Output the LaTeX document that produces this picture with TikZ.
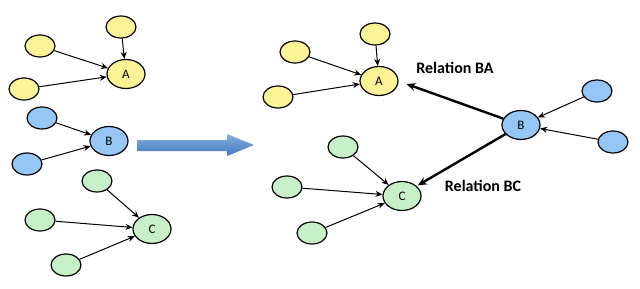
\documentclass[tikz,border=0pt]{standalone}
\usepackage{fontspec}
\setmainfont{Carlito}
\usetikzlibrary{arrows.meta,shapes.geometric,shadings}
\definecolor{yel}{RGB}{252,243,150}
\definecolor{blu}{RGB}{150,198,245}
\definecolor{grn}{RGB}{200,240,200}
\definecolor{arrA}{RGB}{70,120,190}
\definecolor{arrB}{RGB}{130,175,225}
\tikzset{
  leaf/.style={ellipse,draw=black,line width=1.2pt,minimum width=30pt,minimum height=22pt,inner sep=0pt},
  hub/.style={ellipse,draw=black,line width=1.2pt,minimum width=38pt,minimum height=29pt,inner sep=0pt,font=\fontsize{13}{14}\selectfont},
  thin/.style={-{Stealth[length=7pt,width=6pt]},line width=1pt},
  thick/.style={-{Stealth[length=9pt,width=8pt]},line width=2.4pt},
  rel/.style={font=\bfseries\fontsize{16}{18}\selectfont}
}
\begin{document}
\begin{tikzpicture}[x=1pt,y=-1pt]
\useasboundingbox[fill=white] (0,0) rectangle (640,289);
% left group A
\node[hub,fill=yel] (A1) at (126,74) {A};
\node[leaf,fill=yel] (a1) at (121,27) {};
\node[leaf,fill=yel] (a2) at (40,46) {};
\node[leaf,fill=yel] (a3) at (24,89) {};
\draw[thin] (a1) -- (A1);
\draw[thin] (a2) -- (A1);
\draw[thin] (a3) -- (A1);
% left group B
\node[hub,fill=blu] (B1) at (109,141) {B};
\node[leaf,fill=blu] (b1) at (42,118) {};
\node[leaf,fill=blu] (b2) at (27,164) {};
\draw[thin] (b1) -- (B1);
\draw[thin] (b2) -- (B1);
% left group C
\node[hub,fill=grn] (C1) at (152,229) {C};
\node[leaf,fill=grn] (c1) at (97,181) {};
\node[leaf,fill=grn] (c2) at (40,220) {};
\node[leaf,fill=grn] (c3) at (66,265) {};
\draw[thin] (c1) -- (C1);
\draw[thin] (c2) -- (C1);
\draw[thin] (c3) -- (C1);
% big arrow
\shade[top color=arrB,bottom color=arrA,shading angle=0]
  (137,140) -- (227,140) -- (227,134) -- (254,145) -- (227,156) -- (227,151) -- (137,151) -- cycle;
% right group
\node[hub,fill=yel] (A2) at (379,81) {A};
\node[leaf,fill=yel] (d1) at (375,34) {};
\node[leaf,fill=yel] (d2) at (295,52) {};
\node[leaf,fill=yel] (d3) at (278,97) {};
\draw[thin] (d1) -- (A2);
\draw[thin] (d2) -- (A2);
\draw[thin] (d3) -- (A2);
\node[hub,fill=blu] (B2) at (521,125) {B};
\node[leaf,fill=blu] (e1) at (597,91) {};
\node[leaf,fill=blu] (e2) at (613,142) {};
\draw[thin] (e1) -- (B2);
\draw[thin] (e2) -- (B2);
\node[hub,fill=grn] (C2) at (402,196) {C};
\node[leaf,fill=grn] (f1) at (343,147) {};
\node[leaf,fill=grn] (f2) at (287,187) {};
\node[leaf,fill=grn] (f3) at (312,233) {};
\draw[thin] (f1) -- (C2);
\draw[thin] (f2) -- (C2);
\draw[thin] (f3) -- (C2);
\draw[thick] (B2) -- ([xshift=8pt,yshift=-3pt]A2.east);
\draw[thick] (B2) -- ([xshift=2pt]C2.north east);
\node[rel] (lba) at (455,68) {Relation BA};
\node[rel] (lbc) at (483,186) {Relation BC};
\end{tikzpicture}
\end{document}
